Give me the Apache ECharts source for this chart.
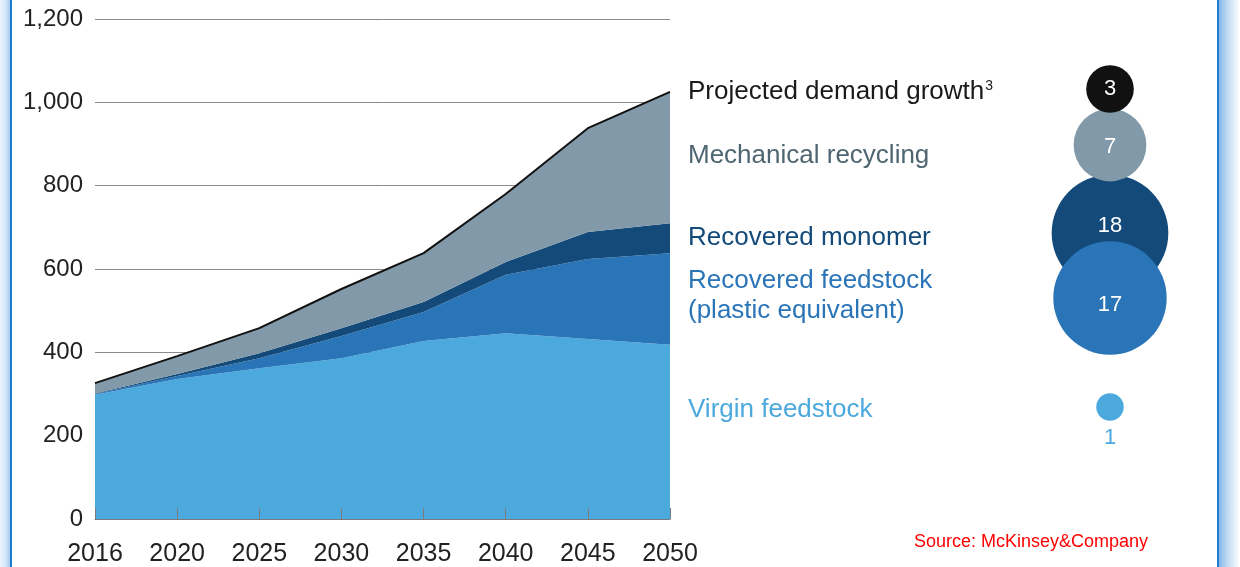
<!DOCTYPE html>
<html>
<head>
  <meta charset="UTF-8">
  <title>Plastics demand by feedstock</title>
  <script src="https://cdn.jsdelivr.net/npm/echarts@6/dist/echarts.min.js"></script>
  <style>
    html, body { margin: 0; padding: 0; background: #fff; }
    .wrap { position: relative; width: 1240px; height: 567px; overflow: hidden; }
    .edge-l { position: absolute; left: 0; top: 0; width: 10px; height: 567px;
      background: linear-gradient(to right, #eaf3fc 0%, #d3e5f7 60%, #a3c8ec 100%); }
    .edge-r { position: absolute; left: 1219px; top: 0; width: 21px; height: 567px;
      background: linear-gradient(to right, #86b6e6 0%, #b9d6f2 35%, #e6f0fa 75%, #ffffff 100%); }
    .frame { position: absolute; left: 10px; top: -5px; width: 1205px; height: 580px;
      border-left: 2px solid #1d7bd2; border-right: 2px solid #1d7bd2; }
    #main { position: absolute; left: 0; top: 0; width: 1240px; height: 567px; }
  </style>
</head>
<body>
<div class="wrap">
  <div class="edge-l"></div>
  <div class="edge-r"></div>
  <div class="frame"></div>
  <div id="main"></div>
</div>

<script type="text/javascript">
  // data
  var years = ['2016', '2020', '2025', '2030', '2035', '2040', '2045', '2050'];
  var virgin = [298, 336, 362, 386, 427, 446, 432, 418];
  var feedstock = [2, 7, 24, 53, 70, 140, 192, 220];
  var monomer = [1, 5, 12, 19, 24, 31, 65, 72];
  var mechanical = [25, 43, 60, 94, 117, 163, 249, 315];

  // growth bubbles (right side)
  var growthNames = ['Projected demand growth{sup|3}', 'Mechanical recycling', 'Recovered monomer',
    'Recovered feedstock\n(plastic equivalent)', 'Virgin feedstock'];
  var growthValues = [3, 7, 18, 17, 1];

  var colors = ['#111111', '#8199a8', '#134a7a', '#2a74b8', '#4ca9dd'];
  var textColors = ['#1a1a1a', '#4f6571', '#134a7a', '#2a74b8', '#4ca9dd'];
  // layout only: vertical rows of the key
  var bubbleRowY = [89, 145, 233, 298, 407];
  var textRowY = [92, 156, 238, 296, 410];
  var drawOrder = [2, 1, 0, 3, 4];

  var FONT = '"Liberation Sans", Arial, Helvetica, sans-serif';

  var myChart = echarts.init(document.getElementById('main'));

  function areaSeries(name, data, color, line) {
    return {
      name: name,
      type: 'line',
      stack: 'total',
      data: data,
      symbol: 'none',
      smooth: false,
      xAxisIndex: 0,
      yAxisIndex: 0,
      lineStyle: line ? { color: '#111', width: 2 } : { width: 0 },
      areaStyle: { color: color, opacity: 1 },
      emphasis: { disabled: true }
    };
  }

  var bubbleData = drawOrder.map(function (i) {
    var lbl = { show: true, color: '#fff', fontSize: 22, fontFamily: FONT, position: 'inside',
      formatter: String(growthValues[i]) };
    if (i === 1) lbl.offset = [0, 2];
    if (i === 2) lbl.offset = [0, -7];
    if (i === 3) lbl.offset = [0, 7];
    if (i === 4) { lbl.position = 'bottom'; lbl.distance = 6; lbl.color = '#4ca9dd'; }
    return {
      value: [0.5, bubbleRowY[i], growthValues[i]],
      itemStyle: { color: colors[i], opacity: 1 },
      label: lbl
    };
  });

  var keyTexts = growthNames.map(function (name, i) {
    return {
      type: 'text',
      left: 688,
      top: textRowY[i] - (name.indexOf('\n') >= 0 ? 30 : 15),
      style: {
        text: name,
        fill: textColors[i],
        font: '26px ' + FONT,
        lineHeight: 30,
        rich: {
          sup: { fontSize: 14, fontFamily: FONT, fill: textColors[i], verticalAlign: 'top', padding: [2, 0, 0, 1] }
        }
      }
    };
  });

  keyTexts.push({
    type: 'text',
    left: 914,
    top: 533,
    style: { text: 'Source: McKinsey&Company', fill: '#ff0000', font: '18px ' + FONT }
  });

  var option = {
    animation: false,
    grid: [
      { left: 95, right: 570, top: 19, bottom: 48 },
      { left: 1000, width: 220, top: 0, height: 567 }
    ],
    xAxis: [{
      gridIndex: 0,
      type: 'category',
      data: years,
      boundaryGap: false,
      z: 10,
      axisLine: { lineStyle: { color: '#7a7a7a', width: 1 } },
      axisTick: { show: true, inside: true, length: 11, lineStyle: { color: '#7a7a7a' } },
      axisLabel: { color: '#222', fontSize: 25, fontFamily: FONT, margin: 23, interval: 0 },
      splitLine: { show: false }
    }, {
      gridIndex: 1, type: 'value', min: 0, max: 1, show: false
    }],
    yAxis: [{
      gridIndex: 0,
      type: 'value',
      min: 0,
      max: 1200,
      interval: 200,
      axisLine: { show: false },
      axisTick: { show: false },
      axisLabel: {
        color: '#222', fontSize: 24, fontFamily: FONT, margin: 12,
        formatter: function (v) { return v.toLocaleString('en-US'); }
      },
      splitLine: { show: true, lineStyle: { color: '#8a8a8a', width: 1 } }
    }, {
      gridIndex: 1, type: 'value', min: 0, max: 567, inverse: true, show: false
    }],
    series: [
      areaSeries('Virgin feedstock', virgin, '#4ca9dd'),
      areaSeries('Recovered feedstock', feedstock, '#2a74b8'),
      areaSeries('Recovered monomer', monomer, '#134a7a'),
      areaSeries('Mechanical recycling', mechanical, '#8199a8', true),
      {
        type: 'scatter',
        xAxisIndex: 1,
        yAxisIndex: 1,
        data: bubbleData,
        symbolSize: function (val) { return Math.sqrt(val[2]) * 27.5; },
        emphasis: { disabled: true }
      }
    ],
    graphic: keyTexts
  };

  myChart.setOption(option);
</script>
</body>
</html>
